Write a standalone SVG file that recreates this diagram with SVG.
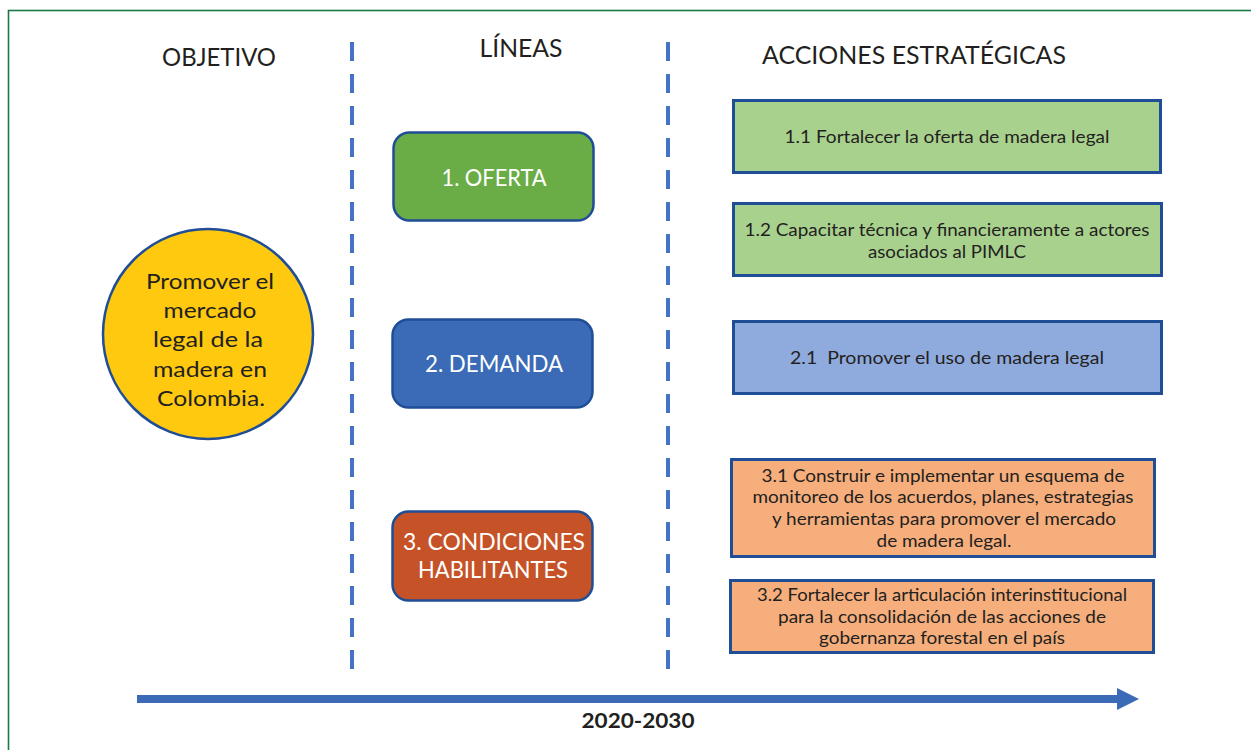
<svg xmlns="http://www.w3.org/2000/svg" width="1251" height="750" viewBox="0 0 1251 750">
<style>
.hdr{font-family:Lato,"Open Sans","Liberation Sans",sans-serif;font-size:25px;fill:#231f20;text-anchor:middle}
.mid{font-family:Lato,"Open Sans","Liberation Sans",sans-serif;font-size:23px;fill:#ffffff;text-anchor:middle}
.act{font-family:Lato,"Open Sans","Liberation Sans",sans-serif;font-size:18px;fill:#231f20;text-anchor:middle}
.obj{font-family:Lato,"Open Sans","Liberation Sans",sans-serif;font-size:22px;fill:#231f20;text-anchor:middle}
.line{stroke:#1f4e96;stroke-width:2.5}
.abox{stroke:#1f4e96;stroke-width:3}
.dash{stroke:#4472c4;stroke-width:4;stroke-dasharray:19 13;fill:none}
</style>
<rect x="0" y="0" width="1251" height="750" fill="#ffffff"/>
<rect x="8.5" y="10.5" width="1260" height="760" fill="none" stroke="#1a7a45" stroke-width="1.6"/>

<g id="headers">
<text class="hdr" x="219" y="66" textLength="114" lengthAdjust="spacingAndGlyphs">OBJETIVO</text>
<text class="hdr" x="521" y="57" textLength="83" lengthAdjust="spacingAndGlyphs">LÍNEAS</text>
<text class="hdr" x="914" y="64" textLength="304" lengthAdjust="spacingAndGlyphs">ACCIONES ESTRATÉGICAS</text>
</g>

<g id="separators">
<line class="dash" x1="352" y1="42" x2="352" y2="669"/>
<line class="dash" x1="668" y1="42" x2="668" y2="669"/>
</g>

<g id="objetivo">
<circle cx="208" cy="334" r="105" fill="#fec90f" stroke="#1f4e96" stroke-width="2.5"/>
<text class="obj" x="210" y="289" textLength="128" lengthAdjust="spacingAndGlyphs">Promover el</text>
<text class="obj" x="210" y="318" textLength="93" lengthAdjust="spacingAndGlyphs">mercado</text>
<text class="obj" x="208" y="347" textLength="110" lengthAdjust="spacingAndGlyphs">legal de la</text>
<text class="obj" x="210" y="377" textLength="114" lengthAdjust="spacingAndGlyphs">madera en</text>
<text class="obj" x="211" y="406" textLength="108" lengthAdjust="spacingAndGlyphs">Colombia.</text>
</g>

<g id="linea1">
<rect class="line" x="393.5" y="132.5" width="200" height="88" rx="16" fill="#6aad46"/>
<text class="mid" x="494" y="186" textLength="105" lengthAdjust="spacingAndGlyphs">1. OFERTA</text>
</g>
<g id="linea2">
<rect class="line" x="392.5" y="319.5" width="200" height="88" rx="16" fill="#3b6bb6"/>
<text class="mid" x="494" y="372" textLength="138" lengthAdjust="spacingAndGlyphs">2. DEMANDA</text>
</g>
<g id="linea3">
<rect class="line" x="392.5" y="511.5" width="200" height="89" rx="16" fill="#c55327"/>
<text class="mid" x="494" y="550" textLength="182" lengthAdjust="spacingAndGlyphs">3. CONDICIONES</text>
<text class="mid" x="493" y="578" textLength="150" lengthAdjust="spacingAndGlyphs">HABILITANTES</text>
</g>

<g id="accion11">
<rect class="abox" x="733.5" y="100.5" width="427" height="72" fill="#a9d18e"/>
<text class="act" x="947" y="143" textLength="325" lengthAdjust="spacingAndGlyphs">1.1 Fortalecer la oferta de madera legal</text>
</g>
<g id="accion12">
<rect class="abox" x="733.5" y="203.5" width="428" height="72" fill="#a9d18e"/>
<text class="act" x="947" y="236" textLength="405" lengthAdjust="spacingAndGlyphs">1.2 Capacitar técnica y financieramente a actores</text>
<text class="act" x="947" y="258" textLength="158" lengthAdjust="spacingAndGlyphs">asociados al PIMLC</text>
</g>
<g id="accion21">
<rect class="abox" x="733.5" y="321.5" width="428" height="72" fill="#8faadc"/>
<text class="act" x="947" y="364" textLength="314" lengthAdjust="spacingAndGlyphs" xml:space="preserve">2.1  Promover el uso de madera legal</text>
</g>
<g id="accion31">
<rect class="abox" x="731.5" y="459.5" width="423" height="97" fill="#f5ae7c"/>
<text class="act" x="943" y="482" textLength="363" lengthAdjust="spacingAndGlyphs">3.1 Construir e implementar un esquema de</text>
<text class="act" x="943" y="503" textLength="381" lengthAdjust="spacingAndGlyphs">monitoreo de los acuerdos, planes, estrategias</text>
<text class="act" x="944" y="525" textLength="344" lengthAdjust="spacingAndGlyphs">y herramientas para promover el mercado</text>
<text class="act" x="944" y="547" textLength="135" lengthAdjust="spacingAndGlyphs">de madera legal.</text>
</g>
<g id="accion32">
<rect class="abox" x="730.5" y="580.5" width="423" height="72" fill="#f5ae7c"/>
<text class="act" x="942" y="601" textLength="370" lengthAdjust="spacingAndGlyphs">3.2 Fortalecer la articulación interinstitucional</text>
<text class="act" x="942" y="623" textLength="328" lengthAdjust="spacingAndGlyphs">para la consolidación de las acciones de</text>
<text class="act" x="942" y="644" textLength="246" lengthAdjust="spacingAndGlyphs">gobernanza forestal en el país</text>
</g>

<g id="timeline">
<rect x="137" y="695" width="981" height="8" fill="#3b6bb6"/>
<polygon points="1117,688 1139,699 1117,710" fill="#3b6bb6"/>
<text x="638" y="728" text-anchor="middle" font-family="Lato,'Open Sans','Liberation Sans',sans-serif" font-size="21" font-weight="bold" fill="#231f20" textLength="113" lengthAdjust="spacingAndGlyphs">2020-2030</text>
</g>
</svg>
